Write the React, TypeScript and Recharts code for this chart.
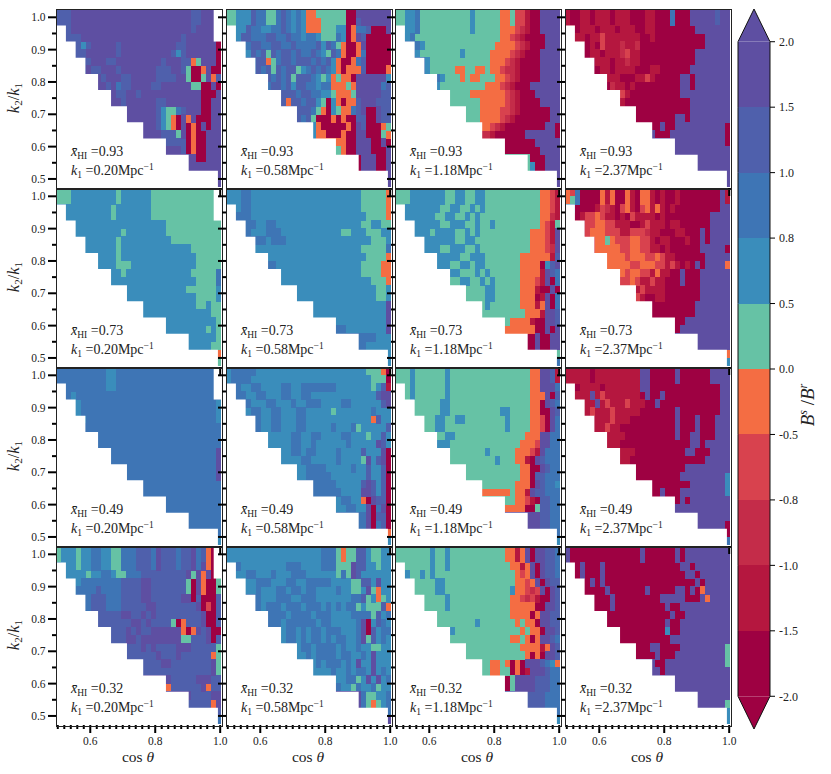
import { Bar, BarChart, ReferenceArea, Scatter, ScatterChart, XAxis, YAxis } from "recharts";

// level per grid cell, rows run from k2/k1 = 1.025 downward in 0.025 steps,
// each string is right aligned on cos(theta) = 1 (left part is masked anyway)
// 0 = [-2,-1.5] ... 9 = [1.5,2]
const p00 = [
  "888999999999999999999999999889999", "888999999999999999999999999889999",
  "88999999999999999999999999899999", "88889999999999999999999989999990",
  "886899999899999999999889999990", "888999999899999999998689999990",
  "8899988999999999899988459990", "8988999899999998889985004900",
  "9899988999998888995005948", "9989788999988999999550090",
  "9889989999999999990009", "9989999998899999990099",
  "9999998655789990099", "9999998654094900099",
  "9998654090409099", "9999888590400999",
  "88880400999", "99980400999",
  "9900999", "9999999", "9", "9",
];
const p01 = [
  "556668775578767644555555009999999", "556668775578767644455555008999999",
  "56687766778767644455566047780009", "56887778877877677655576049800000",
  "778877887787777868754004900000", "68785878878778765874004700000",
  "7884578878887878640047800000", "7878587885678787640444800004",
  "8787858887656454409999996", "7887868877677444549999978",
  "8887887766544459999988", "8488788650640448999888",
  "8887540654478900988", "8785000404008800988",
  "6400000409800045", "6440004009900054",
  "44009990090", "54009990009",
  "0999009", "0999009", "9", "9",
];
const p02 = [
  "556675555555555655555445331009999", "556675555555555655555445331009999",
  "56675555555555655555444321009999", "66755555555555555555443210000999",
  "776555555555555554444321000999", "765555555565555544443210009999",
  "7655555555555544432100009999", "7655555445544544322100009999",
  "7655545445554432100009999", "6555555555444321000999999",
  "5555444444432100099999", "5555554444432100009999",
  "5554444332100000099", "5554444321000000099",
  "4432100000000990", "2210000009999990",
  "00000099999", "00000009999",
  "5000999", "5600999", "9", "9",
];
const p03 = [
  "100110111011100011000700099999899", "100110111011100011000700099999899",
  "10111011101110011000000009999999", "01101131111111001000000000099999",
  "001031112112000000000000099999", "001101112311000000000009999999",
  "0111011211000000000009999999", "0011011110001100000099999999",
  "1110001131000009909999999", "0211010000000009909999999",
  "3100000000009999999999", "1000000000000099999999",
  "0000000000099999999", "0000000099099999999",
  "0090099999999990", "9000999999999990",
  "99999999990", "99999999999",
  "9999999", "9999999", "9", "9",
];
const p10 = [
  "555666666666566666655555555555555", "555666666666566666655555555555555",
  "66666666665666666655555555555555", "66666666665666666655555555555555",
  "666666666666666666655555555555", "666666666656666666655555555555",
  "6666666566666666665555555555", "6666666566666666666666555555",
  "6666566666666666666655555", "6666555666666666666655555",
  "6656666666666666555557", "6666666666666666655557",
  "6666666666665555556", "6666666666666655556",
  "6666666666655655", "6666666666666655",
  "66666666665", "66666666565",
  "6666665", "6666655", "4", "5",
];
const p11 = [
  "666776666666666666666666666555554", "666776666666666666666666666555554",
  "66776666666666666666666666555554", "67776666666666666666666666655554",
  "777667766666666666666666556655", "776667776666666666665566655566",
  "7776777666666666666666665556", "6666666666666666666666555557",
  "6666666666666666666655554", "7766666666666666666555544",
  "6666666666666666555544", "6666666666666666665554",
  "6666666666666666556", "6666666666666666556",
  "6666666666666669", "6666666666666669",
  "66666666669", "77666666669",
  "7777666", "7766666", "6", "6",
];
const p12 = [
  "555666666655665566555555555554431", "555666666655665566555555555554431",
  "56666666556655656555555555554431", "66666665566556565555555555554421",
  "666666556665565565555555554315", "666656666556565555555555444319",
  "6666666556655555555555444319", "6666556665565555555555444329",
  "6666655666555555544444418", "6665566566555555544440689",
  "6655565655555544441987", "566556565555544431907",
  "5555665555544410090", "5555665555544401907",
  "5655555544414907", "5555555554441998",
  "554444100998", "44444400909",
  "0090099", "0090099", "5", "7",
];
const p13 = [
  "437000041400410441010010000000091", "457000041400410441010010000000091",
  "60000132103410341410100000000099", "10133431101031111010000000009999",
  "133443311100131110110000009999", "134443331133321100011000909999",
  "3445433344331011000100909999", "3444443344331101000000999990",
  "4444344433431100000099999", "4433444331310109099994",
  "4344331411009000999999", "3343113110009000999999",
  "1311110000000999999", "3100110000000999999",
  "0000000009999999", "0000000009999999",
  "00999999999", "09999999999",
  "9999999", "9999999", "4", "6",
];
const p20 = [
  "777777777766777777777777777777777", "777777777766777777777777777777777",
  "77777777766777777777777777777777", "77677777777777777777777777777777",
  "667777777777777777777777777776", "667777777777777777777777777776",
  "6777777777777777777777777776", "7777777777777777777777777777",
  "7777777777777777777777777", "7777777777777777777777777",
  "7777777777777777777779", "7777777777777777777779",
  "7777777777777777779", "7777777777777777779",
  "7777777777777777", "7777777777777777",
  "77777777777", "77777777777",
  "7777777", "7777777", "7", "6",
];
const p21 = [
  "677777666666666666666666666655540", "677776666666666666666666666665550",
  "77667766667766777777766666665681", "77766776667766776666666666666899",
  "776667766676677766667766666689", "667766776667766666566666667666",
  "7766776667766666666666664866", "7766776667766666766675666668",
  "6666677667766667766656686", "6666677667666666766666986",
  "6677677666676666866690", "6666776666676666596890",
  "6677776666676686680", "6677777666666686680",
  "7777766666898680", "7777776666998680",
  "667766409880", "66776690790",
  "7790880", "7790780", "4", "6",
];
const p22 = [
  "555655555565555555555555555449981", "555655555565555555555555555449981",
  "55655555565555555555555555449997", "55655555565555555555555555444908",
  "555555665555555555555555440987", "555555665555555555665555440098",
  "5556655665555555565555443097", "5556655555555555565555443097",
  "5566555555555555554449977", "665555555555555544439977",
  "5555555655555444319777", "5555555556555441098777",
  "5555555555544009877", "555555555544088777",
  "55555444098776", "45441988777",
  "55443108877", "44440058877",
  "9998877", "9998877", "7", "6",
];
const p23 = [
  "111110111111111990000090000009999", "111110111111111990000090000009999",
  "10111101111111990000000000000099", "11119131111111090090000000000099",
  "111913111311100900000000000099", "113111311111000000090000000099",
  "1111311100000000090009000999", "1113110000000000090009000999",
  "1111000000000090099000999", "1110000000000000099099999",
  "1110000000000990009999", "1100000000000000099999",
  "0000000000999999999", "0000000009999999996",
  "0000000099999996", "0090009999999996",
  "09099999999", "99999999999",
  "9999999", "9999990", "0", "7",
];
const p30 = [
  "566656677665577788879888788978400", "566656677665577788879888788978400",
  "66656677665577788879888788979400", "666566776557778888888889594900",
  "667777777788889988888885094005", "677778777788889988888885094005",
  "7788877788889988888899080008", "7788877788888998888888890308",
  "8888899889898888888889008", "8888888998988885048889008",
  "8889898899999940498900", "8889989999999955888908",
  "8889898888999888885", "8888889888988888845",
  "8888998888888895", "8888888888888895",
  "98888899988", "48888889488",
  "9888899", "8888849", "8", "7",
];
const p31 = [
  "666666666666666666677754558865566", "666666666666666666677754558865566",
  "67666666666777666677755598866566", "66677666766677766666657598666666",
  "666777666776677777666655886966", "666766677677677666676655695466",
  "7766677766777666666677856456", "7767776777677767676775655584",
  "7777677776777666677775867", "7776777777677666667906876",
  "6776767767776667908677", "6776767767677667958676",
  "6776777767667665566", "6676777767766769666",
  "6767776769669666", "6666766767769676",
  "66775696967", "76657667566",
  "9755667", "9754567", "7", "9",
];
const p32 = [
  "555555565565555555555544149099887", "555555565565555555555544149099887",
  "55555565565555555555554414909887", "56556565555555555555555434909887",
  "555556655555555555555443490988", "555556655555555555556443239098",
  "5555565555555555554432310098", "5555565555555555554444400998",
  "5555555555555554444049988", "5555555565555555454409988",
  "6555555555555545440998", "5555555555554454049987",
  "5555555555544441498", "5555555555554040998",
  "5544540409998764", "5544550401999877",
  "05999988877", "05999988877",
  "8888777", "8888777", "7", "6",
];
const p33 = [
  "900000000000000900000090999999999", "900000000000000900000090999999999",
  "00900090000000000000009909999999", "00900090000000000000000990999999",
  "009090000000000000000009099999", "000009000000090000099090499999",
  "0000900000000099999000949999", "0000900000000009009999999999",
  "0000000000000900999999999", "000000000009009999999999",
  "0000000006009999999999", "0000000000999999999999",
  "0009900009999999995", "0000900099999999995",
  "9009999999999995", "9909999999999999",
  "99999999999", "99999999999",
  "9999999", "9999995", "6", "6",
];

const panelRows = [
  [p00, p01, p02, p03],
  [p10, p11, p12, p13],
  [p20, p21, p22, p23],
  [p30, p31, p32, p33],
];

const xHI = ["0.93", "0.73", "0.49", "0.32"];
const k1 = ["0.20", "0.58", "1.18", "2.37"];

const levelColors = ["#9e0142", "#b5173f", "#c42c49", "#d8424e", "#f46d43", "#66c2a5", "#3a8dbb", "#3e75b5", "#4f60ac", "#5e4fa2"];
const cbarLabels = ["-2.0", "-1.5", "-1.0", "-0.8", "-0.5", "0.0", "0.5", "0.8", "1.0", "1.5", "2.0"];

const yTicks = [0.5, 0.55, 0.6, 0.65, 0.7, 0.75, 0.8, 0.85, 0.9, 0.95, 1.0];
const xTicks = [0.5, 0.52, 0.54, 0.56, 0.58, 0.6, 0.62, 0.64, 0.66, 0.68, 0.7, 0.72, 0.74, 0.76, 0.78, 0.8, 0.82, 0.84, 0.86, 0.88, 0.9, 0.92, 0.94, 0.96, 0.98, 1.0];

// white stair in the lower left: [k high, cos right edge]
const stairs = [
  [0.975, 0.525], [0.925, 0.555], [0.875, 0.585], [0.825, 0.624], [0.775, 0.664],
  [0.725, 0.713], [0.675, 0.763], [0.625, 0.833], [0.575, 0.903], [0.525, 0.993],
];

const FONT = '"Liberation Serif", serif';
const INK = "#222";
const lefts = [56, 226, 395, 565];
const tops = [9, 188, 367, 546];
const PW = 165;
const PH = 179;
const X_MIN = 0.4945;
const X_MAX = 1.0025;
const Y_MIN = 0.472;
const Y_MAX = 1.0257;
const COLS = 33;

function buildCells(rows: string[]) {
  const byLevel: { x: number; y: number }[][] = levelColors.map(() => []);
  const dx = (X_MAX - X_MIN) / COLS;
  rows.forEach((row, r) => {
    const full = row.slice(-COLS).padStart(COLS, row[0]);
    for (let c = 0; c < COLS; c++) {
      byLevel[Number(full[c])].push({ x: X_MIN + (c + 0.5) * dx, y: 1.025 - 0.025 * (r + 0.5) });
    }
  });
  return byLevel;
}

function CellMark(props: any) {
  return (
    <rect x={props.cx - 2.8} y={props.cy - 4.4} width={5.6} height={8.8} fill={props.fill} shapeRendering="crispEdges" />
  );
}

function YTick(props: any) {
  const { x, y, payload, showLabel } = props;
  const v = payload.value;
  const major = Math.abs(v * 10 - Math.round(v * 10)) < 0.01;
  return (
    <g>
      <line x1={x} x2={x - (major ? 8 : 4)} y1={y} y2={y} stroke="#000" strokeWidth={2} />
      {major && showLabel ? (
        <text x={x - 10.5} y={y + 4} textAnchor="end" fontSize={11.5} fontFamily={FONT} fill={INK}>
          {v.toFixed(1)}
        </text>
      ) : null}
    </g>
  );
}

function XTick(props: any) {
  const { x, y, payload, last } = props;
  const v = payload.value;
  const major = Math.abs(v * 5 - Math.round(v * 5)) < 0.01;
  return (
    <g>
      <line x1={x} x2={x} y1={y} y2={y + (major ? 8 : 4)} stroke="#000" strokeWidth={2} />
      {major && last ? (
        <text x={x} y={y + 20} textAnchor="middle" fontSize={11.5} fontFamily={FONT} fill={INK}>
          {v.toFixed(1)}
        </text>
      ) : null}
    </g>
  );
}

function Panel({ row, col }: { row: number; col: number }) {
  const last = row === 3;
  const cells = buildCells(panelRows[row][col]);
  const bottom = last ? 40 : 12;
  return (
    <div style={{ position: "absolute", left: lefts[col] - 40, top: tops[row] - 10, zIndex: (3 - row) * 10 + col }}>
      <ScatterChart
        width={PW + 40 + 12}
        height={PH + 10 + bottom}
        margin={{ top: 10, right: 12, bottom: 0, left: 0 }}
      >
        <XAxis
          type="number"
          dataKey="x"
          domain={[X_MIN, X_MAX]}
          ticks={last ? xTicks : [1.0]}
          interval={0}
          height={bottom}
          axisLine={false}
          tickLine={false}
          tickSize={0}
          tickMargin={0}
          tick={<XTick last={last} />}
          allowDataOverflow
        />
        <YAxis
          type="number"
          dataKey="y"
          domain={[Y_MIN, Y_MAX]}
          ticks={yTicks}
          interval={0}
          width={40}
          axisLine={false}
          tickLine={false}
          tickSize={0}
          tickMargin={0}
          tick={<YTick showLabel={col === 0} />}
          allowDataOverflow
        />
        {cells.map((data, level) => (
          <Scatter key={level} data={data} fill={levelColors[level]} shape={CellMark} isAnimationActive={false} />
        ))}
        {stairs.map(([hi, edge]) => (
          <ReferenceArea key={hi} x1={X_MIN} x2={edge} y1={Y_MIN} y2={hi} fill="#fff" fillOpacity={1} stroke="none" zIndex={900} />
        ))}
        {col === 0 ? (
          <ReferenceArea x1={0.98} x2={X_MAX} y1={0.925} y2={Y_MAX} fill="#fff" fillOpacity={1} stroke="none" zIndex={900} />
        ) : null}
      </ScatterChart>
      <div
        style={{
          position: "absolute",
          left: 40 - 0.5,
          top: 10 - 0.5,
          width: PW,
          height: PH,
          border: "1px solid #222",
          pointerEvents: "none",
        }}
      />
    </div>
  );
}

function PanelText({ row, col }: { row: number; col: number }) {
  const left = lefts[col] + 15;
  const base: any = { position: "absolute", left, fontFamily: FONT, fontSize: 14, color: INK, whiteSpace: "nowrap", lineHeight: "15px" };
  const small: any = { fontSize: 9.5, position: "relative", top: 3 };
  const sup: any = { fontSize: 9.5, position: "relative", top: -5 };
  return (
    <div style={{ position: "absolute", left: 0, top: 0, zIndex: 100 }}>
      <div style={{ ...base, top: tops[row] + 135 }}>
        <i>x̄</i>
        <span style={small}>HI</span> =<span>{xHI[row]}</span>
      </div>
      <div style={{ ...base, top: tops[row] + 154 }}>
        <i>k</i>
        <span style={small}>1</span> ={k1[col]}Mpc
        <span style={sup}>−1</span>
      </div>
    </div>
  );
}

const cbarRow: Record<string, number | string> = { name: "cbar", under: 0.5, over: 0.5 };
levelColors.forEach((_, i) => {
  cbarRow[`s${i}`] = 1;
});
const cbarData = [cbarRow];
const cbarTicks = cbarLabels.map((_, i) => i + 0.5);

function CbarSegment(props: any) {
  const { x, y, width, height, fill, kind } = props;
  if (kind === "over" || kind === "under") {
    const tip = kind === "over" ? y : y + height;
    const base = kind === "over" ? y + height : y;
    return (
      <g>
        <polygon points={`${x},${base} ${x + width / 2},${tip} ${x + width},${base}`} fill={fill} />
        <polyline points={`${x},${base} ${x + width / 2},${tip} ${x + width},${base}`} fill="none" stroke="#111" strokeWidth={1} />
      </g>
    );
  }
  return (
    <g>
      <rect x={x} y={y} width={width} height={height} fill={fill} shapeRendering="crispEdges" />
      <line x1={x} x2={x} y1={y} y2={y + height} stroke="#111" strokeWidth={1} />
      <line x1={x + width} x2={x + width} y1={y} y2={y + height} stroke="#111" strokeWidth={1} />
    </g>
  );
}

function Colorbar() {
  return (
    <div style={{ position: "absolute", left: 737, top: 8 }}>
      <BarChart
        width={32 + 45 + 1}
        height={722}
        data={cbarData}
        barCategoryGap={0}
        margin={{ top: 1, right: 0, bottom: 1, left: 1 }}
      >
        <XAxis dataKey="name" hide />
        <YAxis
          orientation="right"
          type="number"
          domain={[0, 11]}
          ticks={cbarTicks}
          interval={0}
          width={45}
          axisLine={false}
          tickSize={5}
          tickMargin={4}
          tickLine={{ stroke: "#000" }}
          tick={{ fontSize: 12, fontFamily: FONT, fill: INK }}
          tickFormatter={(v: number) => cbarLabels[Math.round(v - 0.5)]}
        />
        <Bar
          dataKey="under"
          stackId="cb"
          fill={levelColors[0]}
          isAnimationActive={false}
          shape={(p: any) => <CbarSegment {...p} kind="under" />}
        />
        {levelColors.map((color, i) => (
          <Bar key={i} dataKey={`s${i}`} stackId="cb" fill={color} isAnimationActive={false} shape={(p: any) => <CbarSegment {...p} kind="mid" />} />
        ))}
        <Bar
          dataKey="over"
          stackId="cb"
          fill={levelColors[9]}
          isAnimationActive={false}
          shape={(p: any) => <CbarSegment {...p} kind="over" />}
        />
      </BarChart>
    </div>
  );
}

function YTitle({ top }: { top: number }) {
  const sub: any = { fontSize: 11, position: "relative", top: 3 };
  return (
    <div
      style={{
        position: "absolute",
        left: 14,
        top,
        transform: "translate(-50%, -50%) rotate(-90deg)",
        fontFamily: FONT,
        fontSize: 16.5,
        color: INK,
        whiteSpace: "nowrap",
        zIndex: 100,
      }}
    >
      <i>k</i>
      <span style={sub}>2</span>/<i>k</i>
      <span style={sub}>1</span>
    </div>
  );
}

function XTitle({ col }: { col: number }) {
  return (
    <div
      style={{
        position: "absolute",
        left: lefts[col] + 82,
        top: 757,
        transform: "translate(-50%, -50%)",
        fontFamily: FONT,
        fontSize: 15.5,
        color: INK,
        whiteSpace: "nowrap",
        zIndex: 100,
      }}
    >
      cos <i>θ</i>
    </div>
  );
}

export default function App() {
  const rowIdx = [0, 1, 2, 3];
  const colIdx = [0, 1, 2, 3];
  const sup: any = { fontSize: 12, position: "relative", top: -7 };
  return (
    <div style={{ position: "absolute", left: 0, top: 0, width: 831, height: 774, background: "#fff", overflow: "hidden" }}>
      {rowIdx.map((row) => colIdx.map((col) => <Panel key={`${row}-${col}`} row={row} col={col} />))}
      {rowIdx.map((row) => colIdx.map((col) => <PanelText key={`t${row}-${col}`} row={row} col={col} />))}
      {rowIdx.map((row) => (
        <YTitle key={row} top={tops[row] + 89} />
      ))}
      {colIdx.map((col) => (
        <XTitle key={col} col={col} />
      ))}
      <Colorbar />
      <div
        style={{
          position: "absolute",
          left: 808,
          top: 405,
          transform: "translate(-50%, -50%) rotate(-90deg)",
          fontFamily: FONT,
          fontSize: 19,
          color: INK,
          whiteSpace: "nowrap",
          zIndex: 100,
        }}
      >
        <i>B</i>
        <span style={sup}>
          <i>s</i>
        </span>
        {" "}/<i>B</i>
        <span style={sup}>
          <i>r</i>
        </span>
      </div>
    </div>
  );
}
